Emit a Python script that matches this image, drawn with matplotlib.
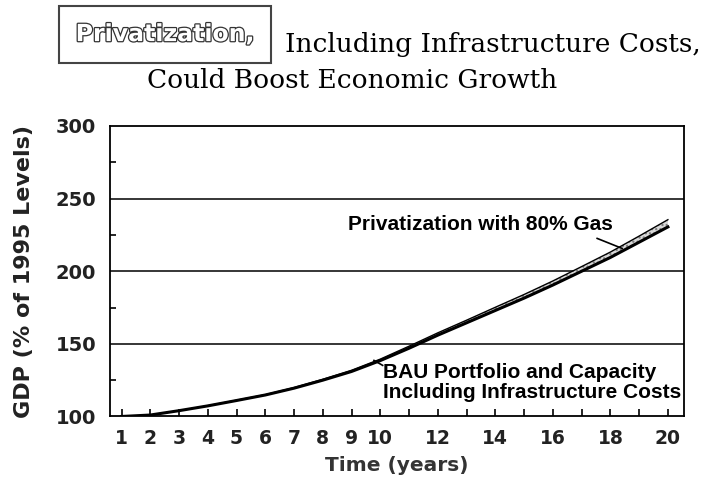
import matplotlib.pyplot as plt
import matplotlib.patheffects as pe

# Years on the x axis
years = [1, 2, 3, 4, 5, 6, 7, 8, 9, 10, 11, 12, 13, 14, 15, 16, 17, 18, 19, 20]
# BAU portfolio and capacity, including infrastructure costs
bau = [100, 101, 104, 107.3, 111, 114.8, 119.5, 125, 131, 138.5,
       147, 156, 164.5, 173, 181.5, 190.5, 200, 209.5, 220, 230.5]
# Privatization with 80% gas
priv = [100, 101, 104, 107.4, 111.2, 115, 119.9, 125.6, 131.8, 139.5,
        148.4, 157.6, 166.3, 175.2, 184, 193.3, 203.2, 213.2, 224.2, 235.5]

xtick_labels = ['1', '2', '3', '4', '5', '6', '7', '8', '9', '10',
                '', '12', '', '14', '', '16', '', '18', '', '20']
yticks = [100, 150, 200, 250, 300]

fig = plt.figure(figsize=(7.08, 4.87), dpi=100)
ax = fig.add_axes([0.1554, 0.1448, 0.8107, 0.5965])

# Band between the two scenarios
ax.fill_between(years, bau, priv, facecolor='#d8d8d8', edgecolor='#777777',
                hatch='....', linewidth=0)
ax.plot(years, priv, color='black', lw=1.0)
ax.plot(years, bau, color='black', lw=2.2)

# Horizontal grid lines
for g in [150, 200, 250]:
    ax.axhline(g, color='black', lw=1.1, zorder=0)

ax.set_xlim(0.6, 20.56)
ax.set_ylim(100, 300)
ax.set_xticks(years)
ax.set_xticklabels(xtick_labels)
ax.set_yticks(yticks)
ax.set_yticks([125, 175, 225, 275], minor=True)
ax.tick_params(axis='x', direction='in', length=5, width=1.2, pad=9,
               labelsize=13.5, labelcolor='#222222')
ax.tick_params(axis='y', which='major', length=0, pad=10,
               labelsize=14, labelcolor='#222222')
ax.tick_params(axis='y', which='minor', direction='in', length=4, width=1.2)
for lab in ax.get_xticklabels() + ax.get_yticklabels():
    lab.set_fontweight('bold')
for s in ax.spines.values():
    s.set_linewidth(1.3)

ax.set_xlabel('Time (years)', fontsize=14.5, fontweight='bold', color='#333333',
              labelpad=6)
fig.text(0.034, 0.4435, 'GDP (% of 1995 Levels)', rotation=90, fontsize=16,
         fontweight='bold', color='#222222', ha='center', va='center')

# Curve labels
ann = 'Liberation Sans'
ax.text(8.88, 228.4, 'Privatization with 80% Gas', family=ann,
        fontsize=15, fontweight='bold', va='baseline')
ax.plot([17.54, 18.41], [222.6, 215.7], color='black', lw=1.2)
ax.text(10.1, 126.2, 'BAU Portfolio and Capacity', family=ann,
        fontsize=15, fontweight='bold', va='baseline')
ax.text(10.1, 112.4, 'Including Infrastructure Costs', family=ann,
        fontsize=15, fontweight='bold', va='baseline')
ax.plot([9.78, 10.08], [138.6, 135.2], color='black', lw=1.2)

# Title
fig.text(0.233, 0.930, 'Privatization,', fontsize=17, fontweight='bold',
         color='white', ha='center', va='center',
         path_effects=[pe.Stroke(linewidth=1.8, foreground='#333333'), pe.Normal()],
         bbox=dict(boxstyle='square,pad=0.7', fc='white', ec='#444444', lw=1.5))
fig.text(0.4025, 0.893, 'Including Infrastructure Costs,', family='DejaVu Serif',
         fontsize=19, va='baseline')
fig.text(0.2076, 0.819, 'Could Boost Economic Growth', family='DejaVu Serif',
         fontsize=19, va='baseline')

fig.savefig('out.png', dpi=100)
